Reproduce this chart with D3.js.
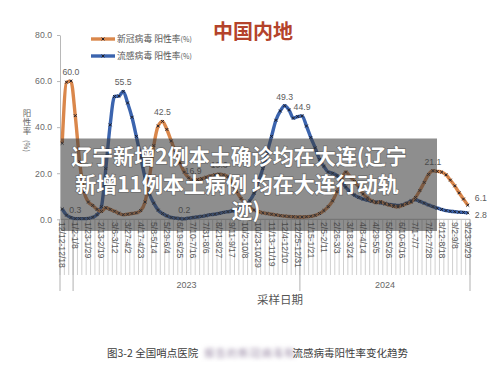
<!DOCTYPE html>
<html><head><meta charset="utf-8">
<script src="https://cdn.jsdelivr.net/npm/d3@7"></script>
<style>
html,body{margin:0;padding:0;background:#fff;}
svg{display:block;}
</style></head>
<body>
<svg id="chart" width="500" height="371"></svg>
<script>
// ---------- DATA ----------
const categories = d3.range(94); // weekly sampling periods, 2022-12-12 .. 2024-09-29
const tickLabels = ["12/12-12/18","1/2-1/8","1/23-1/29","2/13-2/19","3/6-3/12","3/27-4/2","4/17-4/23","5/8-5/14","5/29-6/4","6/19-6/25","7/10-7/16","7/31-8/6","8/21-8/27","9/11-9/17","10/2-10/8","10/23-10/29","11/13-11/19","12/4-12/10","12/25-12/31","1/15-1/21","2/5-2/11","2/26-3/3","3/18-3/24","4/8-4/14","4/29-5/5","5/20-5/26","6/10-6/16","7/1-7/7","7/22-7/28","8/12-8/18","9/2-9/8","9/23-9/29"];
const yearLabels = ["", "2023", "2024"];
const yearStarts = [0, 3, 55];
const yearEnds = [3, 55, 94];
const yTicks = [0, 20, 40, 60, 80];
const seriesNames = ["新冠病毒 阳性率", "流感病毒 阳性率"];
const covid = [33,59.5,60.0,45,25,12,7.5,6,4.3,3.4,
  5.0,4.3,3.5,2.6,2.0,2.2,2.5,2.8,3.8,7.5,
  18,32,40.5,42.5,39,34,29,24.5,20.5,18,
  16.9,17.2,17.6,18.2,18.8,19.3,19.6,19.3,18.5,15.5,
  12,9,6.5,5,4,3.3,2.8,2.5,2.2,1.9,
  1.6,1.4,1.2,1.1,1.0,1.0,1.1,1.3,1.7,2.5,
  3.8,5.5,8,12,17,20.5,18.5,16.5,14,11,
  9.3,8,7.2,7.6,6.8,6.2,5.6,5.4,6.0,6.8,
  7.5,9.5,12.5,16,19.5,21.1,20.8,20.5,19.3,17,
  14.5,11.5,8.8,6.1];
const flu = [4.5,1.8,0.8,0.3,0.3,0.3,0.4,0.9,2.0,5.5,
  22,41,53.3,53.5,55.5,50.5,44.3,36,27,18,
  11,7,4,2.5,1.5,0.8,0.5,0.3,0.2,0.5,
  0.8,1.0,1.3,1.6,2.0,2.2,2.6,3.0,3.3,3.6,
  3.8,5.0,6.0,8,11.3,16.5,22,29,36,43,
  47,49.3,47.5,43.9,44.6,44.9,40.5,35.5,31,26,
  23,20.5,20,19,16.5,14,12,10.5,9.5,8.8,
  8.3,7.8,7.5,7.2,6.8,6.5,6.2,6.0,6.3,7.0,
  8.0,8.5,7.8,7.0,6.2,5.5,4.8,4.3,3.8,3.5,
  3.3,3.1,3.0,2.8];
const covidLabelIdx = [2, 23, 30, 36, 85];
const fluLabelIdx = [3, 14, 28, 51, 55];
const headline = ["辽宁新增2例本土确诊均在大连(辽宁", "新增11例本土病例 均在大连行动轨", "迹)"];

// ---------- DRAW ----------
const svg = d3.select("#chart");
const numFont = "'Liberation Sans', Arial, sans-serif";
const cjkFont = "'Noto Sans CJK SC', 'Noto Sans', sans-serif";
const colCovid = "#DA874B", colFlu = "#3B64AE";

const x = d3.scaleBand().domain(categories).range([60, 470]).padding(0);
const cx = i => x(i) + x.bandwidth() / 2;
const bx = i => i >= categories.length ? x.range()[1] : x(i);
const y = d3.scaleLinear().domain([0, 80]).range([219.3, 35]);

// title
svg.append("text").attr("x", 253).attr("y", 39).attr("text-anchor", "middle")
  .attr("font-family", cjkFont).attr("font-weight", "bold").attr("font-size", 20)
  .attr("fill", "#B4432B").text("中国内地");

// y axis
const yAxis = d3.axisLeft(y).tickValues(yTicks).tickFormat(d3.format(".1f")).tickSize(3).tickSizeOuter(0);
const gy = svg.append("g").attr("transform", "translate(60,0)").call(yAxis);
gy.select(".domain").attr("stroke", "#b8b8b8");
gy.selectAll(".tick line").attr("stroke", "#b8b8b8");
gy.selectAll(".tick text").attr("font-family", numFont).attr("font-size", 8.7).attr("fill", "#6a6a6a").attr("x", -8);

// y title
const yt = svg.append("g").attr("font-family", cjkFont).attr("font-size", 8.5).attr("fill", "#666");
["阳","性","率"].forEach((c, k) => yt.append("text").attr("x", 27).attr("y", 116 + k * 9).attr("text-anchor", "middle").text(c));
yt.append("text").attr("transform", "translate(24,140) rotate(90)").attr("font-size", 7.5).text("(%)");

// x axis
const gx = svg.append("g");
gx.append("line").attr("x1", 60).attr("x2", 470).attr("y1", y(0)).attr("y2", y(0)).attr("stroke", "#b8b8b8");
gx.selectAll("line.tk").data(d3.range(categories.length + 1)).join("line").attr("class", "tk")
  .attr("x1", d => bx(d)).attr("x2", d => bx(d)).attr("y1", y(0)).attr("y2", 275)
  .attr("stroke", "#c4c4c4").attr("stroke-width", 0.8);
const bounds = Array.from(new Set(yearStarts.concat(yearEnds)));
gx.selectAll("line.yr").data(bounds).join("line").attr("class", "yr")
  .attr("x1", d => bx(d)).attr("x2", d => bx(d)).attr("y1", y(0)).attr("y2", 291)
  .attr("stroke", "#a8a8a8").attr("stroke-width", 0.9);
gx.selectAll("text.tl").data(tickLabels).join("text").attr("class", "tl")
  .attr("transform", (d, k) => `translate(${cx(k * 3)},222) rotate(90)`)
  .attr("dominant-baseline", "central")
  .attr("font-family", numFont).attr("font-size", 8.6).attr("fill", "#5a5a5a").text(d => d);
gx.selectAll("text.yl").data(yearLabels).join("text").attr("class", "yl")
  .attr("x", (d, k) => (bx(yearStarts[k]) + bx(yearEnds[k])) / 2).attr("y", 288)
  .attr("text-anchor", "middle").attr("font-family", numFont).attr("font-size", 9).attr("fill", "#666").text(d => d);
svg.append("text").attr("x", 280).attr("y", 304).attr("text-anchor", "middle")
  .attr("font-family", cjkFont).attr("font-size", 11.5).attr("fill", "#555").text("采样日期");

// lines
const line = d3.line().x((d, i) => cx(i)).y(d => y(d)).curve(d3.curveMonotoneX);
const cross = (g, data, idxFn) => {
  g.selectAll("path.mk").data(data).join("path").attr("class", "mk")
    .attr("d", (d, i) => { const px = cx(i), py = y(d), s = 1.4; return `M${px-s},${py-s}L${px+s},${py+s}M${px-s},${py+s}L${px+s},${py-s}`; })
    .attr("stroke", "#1e1e28").attr("stroke-width", 1);
};
[[flu, colFlu], [covid, colCovid]].forEach(([data, col]) => {
  svg.append("path").datum(data).attr("d", line).attr("fill", "none").attr("stroke", col).attr("stroke-width", 3.4).attr("stroke-linejoin", "round");
});
[flu, covid].forEach(data => cross(svg.append("g"), data));

// data labels
const lab = svg.append("g").attr("font-family", numFont).attr("font-size", 8.7).attr("fill", "#5d5d5d").attr("text-anchor", "middle");
covidLabelIdx.forEach(i => lab.append("text").attr("x", cx(i)).attr("y", y(covid[i]) - 6).text(d3.format(".1f")(covid[i])));
fluLabelIdx.forEach(i => lab.append("text").attr("x", cx(i)).attr("y", y(flu[i]) - 6).text(d3.format(".1f")(flu[i])));
const last = categories.length - 1;
lab.append("text").attr("x", cx(last) + 7).attr("y", y(covid[last]) - 4).attr("text-anchor", "start").text(d3.format(".1f")(covid[last]));
lab.append("text").attr("x", cx(last) + 7).attr("y", y(flu[last]) + 5).attr("text-anchor", "start").text(d3.format(".1f")(flu[last]));

// legend
const lg = svg.append("g");
[[colCovid, 39], [colFlu, 56]].forEach(([col, ly], k) => {
  lg.append("line").attr("x1", 91).attr("x2", 115).attr("y1", ly).attr("y2", ly).attr("stroke", col).attr("stroke-width", 3.4);
  lg.append("path").attr("d", `M101.6,${ly-1.4}L104.4,${ly+1.4}M101.6,${ly+1.4}L104.4,${ly-1.4}`).attr("stroke", "#1e1e28").attr("stroke-width", 1);
  const t = lg.append("text").attr("x", 117).attr("y", ly + 3.2).attr("font-family", cjkFont).attr("font-size", 8.8).attr("fill", "#555");
  t.append("tspan").text(seriesNames[k]);
  t.append("tspan").attr("font-size", 7).text("(%)");
});

// overlay banner
svg.append("rect").attr("x", 61).attr("y", 138.5).attr("width", 376).attr("height", 92.5)
  .attr("fill", "#3c3c3c").attr("opacity", 0.58);
const hl = svg.append("g").attr("font-family", cjkFont).attr("font-weight", "bold").attr("font-size", 21)
  .attr("fill", "#fff").attr("text-anchor", "middle")
  .attr("stroke", "rgba(0,0,0,0.25)").attr("stroke-width", 1.5).attr("paint-order", "stroke");
const hx = [239, 237, 246], hy = [164, 192, 218];
headline.forEach((s, k) => hl.append("text").attr("x", hx[k]).attr("y", hy[k]).text(s));

// caption
const cap = svg.append("g").attr("font-family", cjkFont).attr("font-size", 10.5).attr("fill", "#3d3d3d");
cap.append("text").attr("x", 107).attr("y", 357).text("图3-2 全国哨点医院");
const defs = svg.append("defs");
defs.append("filter").attr("id", "blur").append("feGaussianBlur").attr("stdDeviation", 2.2);
cap.append("text").attr("x", 204).attr("y", 357).attr("textLength", 91).attr("fill", "#9a8aa6").attr("filter", "url(#blur)").text("报告的新冠病毒和");
cap.append("text").attr("x", 408).attr("y", 357).attr("text-anchor", "end").text("流感病毒阳性率变化趋势");
</script>
</body></html>
